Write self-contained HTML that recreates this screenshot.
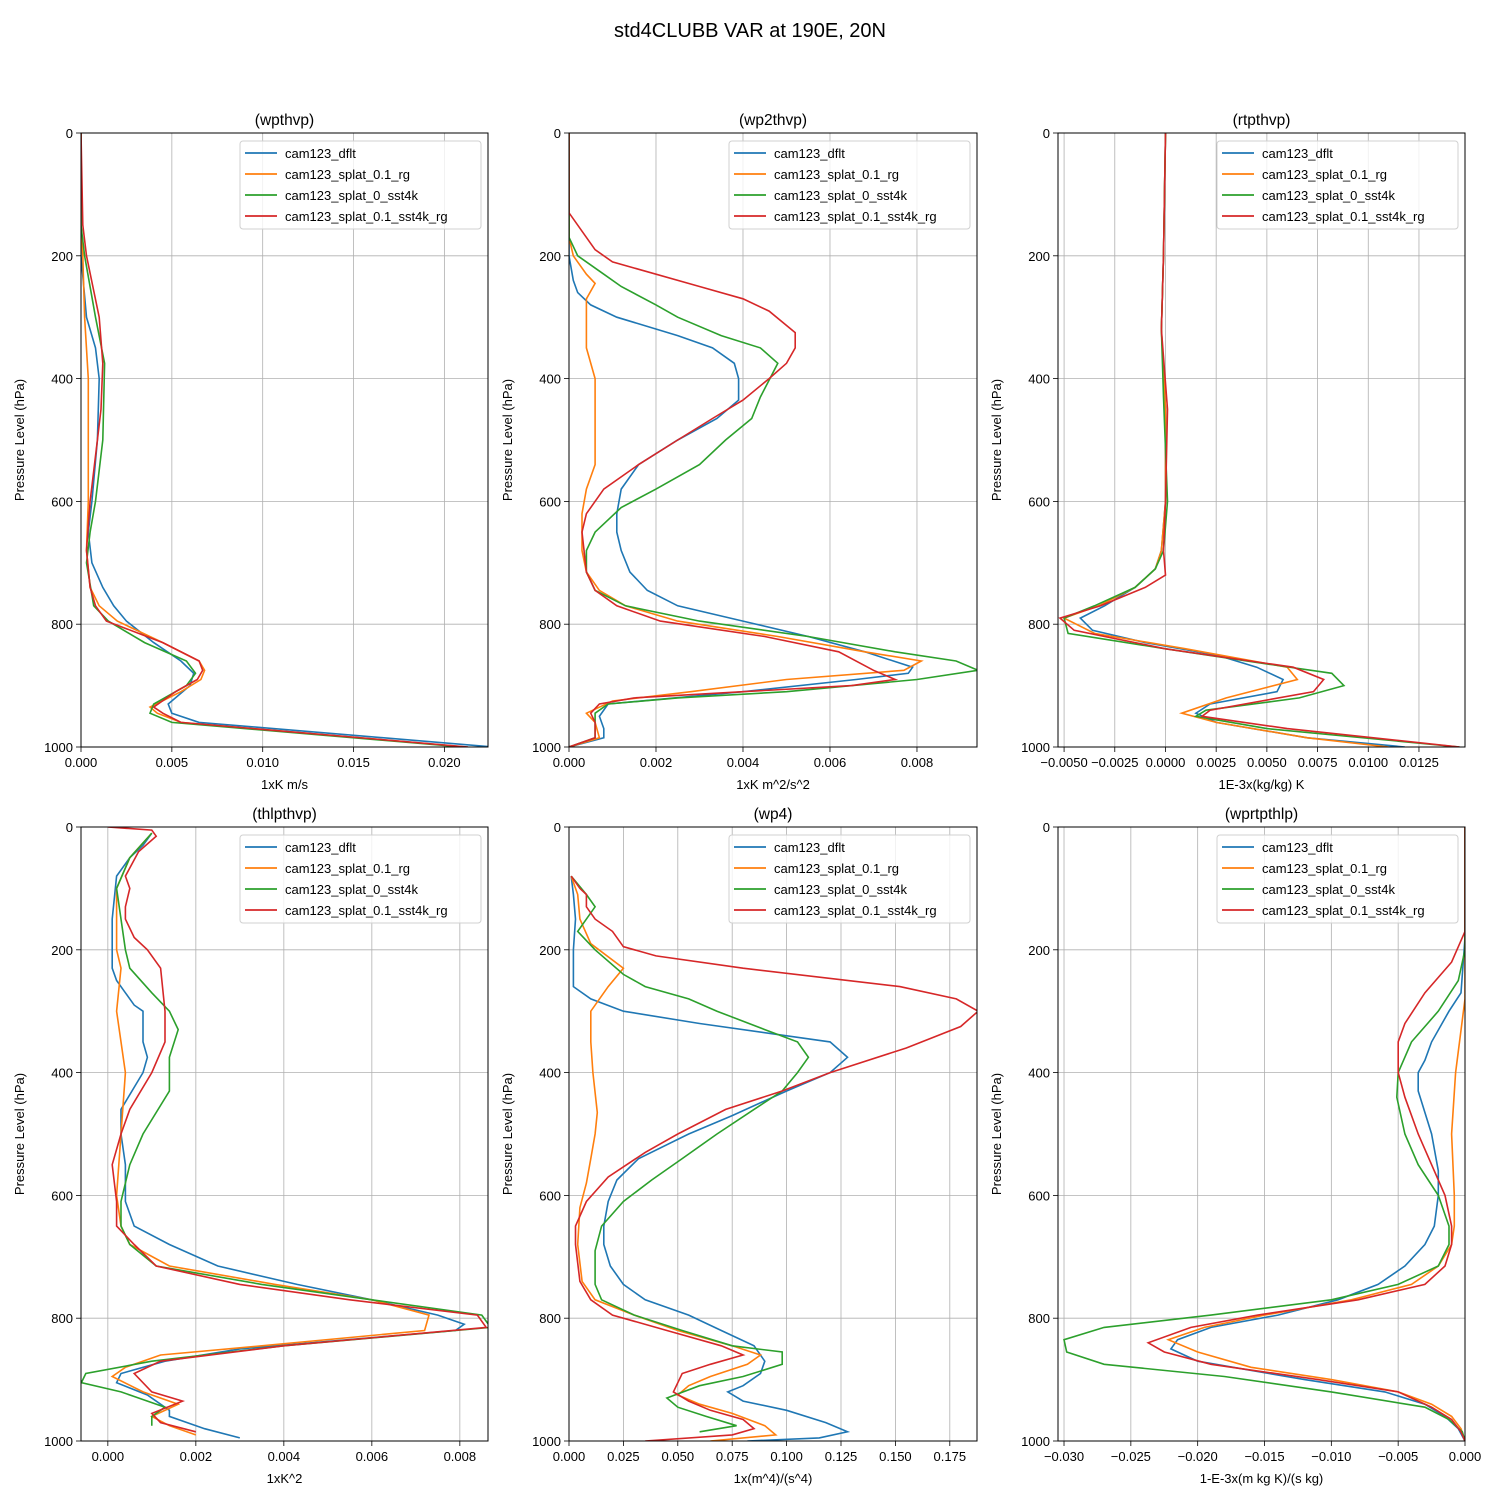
<!DOCTYPE html>
<html><head><meta charset="utf-8"><style>
body{margin:0;background:#fff;}
svg text{font-family:"Liberation Sans","DejaVu Sans",sans-serif;fill:#000;}
</style></head><body>
<svg id="chart" width="1500" height="1500" xmlns="http://www.w3.org/2000/svg">
<rect width="1500" height="1500" fill="#fff"/>
<text x="750" y="37" font-size="20" text-anchor="middle">std4CLUBB VAR at 190E, 20N</text>
</svg>
<script>
const seriesNames = ["cam123_dflt","cam123_splat_0.1_rg","cam123_splat_0_sst4k","cam123_splat_0.1_sst4k_rg"];
const seriesColors = ["#1f77b4","#ff7f0e","#2ca02c","#d62728"];
const yTicks = [0,200,400,600,800,1000];

// Panel 1: wpthvp
const p1Blue_p = [0,200,300,350,400,500,600,650,700,740,770,795,830,860,880,900,930,945,960,1000];
const p1Blue_x = [0,0,0.0003,0.0008,0.0010,0.0009,0.0006,0.0004,0.0006,0.0012,0.0018,0.0025,0.0040,0.0055,0.0062,0.0060,0.0048,0.0050,0.0065,0.0227];
const p1Orange_p = [0,150,200,300,400,500,600,680,740,770,795,830,860,875,890,910,935,945,960,1000];
const p1Orange_x = [0,0,0.0001,0.0002,0.0004,0.0004,0.0004,0.0003,0.0005,0.0010,0.0020,0.0045,0.0065,0.0068,0.0066,0.0055,0.0038,0.0042,0.0055,0.0212];
const p1Green_p = [0,150,200,300,375,500,600,650,700,770,795,830,860,880,900,930,945,960,1000];
const p1Green_x = [0,0,0.0002,0.0008,0.0013,0.0012,0.0008,0.0005,0.0003,0.0007,0.0015,0.0035,0.0058,0.0063,0.0058,0.0040,0.0038,0.0050,0.0210];
const p1Red_p = [0,150,200,300,375,450,500,600,680,740,770,795,830,860,875,890,910,935,945,960,1000];
const p1Red_x = [0,0.0001,0.0003,0.0010,0.0012,0.0011,0.0009,0.0005,0.0003,0.0005,0.0008,0.0014,0.0045,0.0065,0.0067,0.0064,0.0052,0.0040,0.0045,0.0055,0.0213];
const p1Ticks = [0,0.005,0.010,0.015,0.020];

// Panel 2: wp2thvp
const p2Blue_p = [0,200,240,260,280,300,330,350,375,400,435,465,500,540,580,620,650,680,715,745,770,795,820,845,870,880,890,910,930,950,970,985,1000];
const p2Blue_x = [0,0,0.0001,0.0002,0.0005,0.0011,0.0025,0.0033,0.0038,0.0039,0.0039,0.0034,0.0025,0.0016,0.0012,0.0011,0.0011,0.0012,0.0014,0.0018,0.0025,0.0040,0.0055,0.0068,0.0079,0.0078,0.0066,0.0040,0.0009,0.0007,0.0008,0.0008,0];
const p2Orange_p = [0,170,200,230,245,270,300,350,400,435,500,540,580,620,680,715,745,770,795,820,845,860,875,890,910,925,945,960,985,1000];
const p2Orange_x = [0,0,0.0001,0.0004,0.0006,0.0004,0.0004,0.0004,0.0006,0.0006,0.0006,0.0006,0.0004,0.0003,0.0003,0.0004,0.0007,0.0013,0.0025,0.0048,0.0068,0.0081,0.0077,0.0050,0.0028,0.0010,0.0004,0.0006,0.0007,0];
const p2Green_p = [0,170,200,230,250,280,300,330,350,375,430,465,500,540,580,610,650,680,715,745,770,795,820,845,860,875,890,910,920,930,945,960,985,1000];
const p2Green_x = [0,0,0.0002,0.0008,0.0012,0.0020,0.0025,0.0035,0.0044,0.0048,0.0044,0.0042,0.0036,0.0030,0.0020,0.0012,0.0006,0.0004,0.0004,0.0006,0.0013,0.0030,0.0055,0.0075,0.0089,0.0094,0.0080,0.0050,0.0025,0.0009,0.0006,0.0006,0.0006,0];
const p2Red_p = [0,130,160,190,210,250,270,290,325,350,375,400,435,465,500,540,580,620,650,715,745,770,795,820,845,875,890,900,910,920,930,945,960,985,1000];
const p2Red_x = [0,0,0.0003,0.0006,0.0010,0.0030,0.0040,0.0046,0.0052,0.0052,0.0050,0.0046,0.0040,0.0033,0.0025,0.0016,0.0008,0.0004,0.0003,0.0004,0.0006,0.0011,0.0021,0.0045,0.0062,0.0070,0.0075,0.0065,0.0040,0.0015,0.0007,0.0005,0.0006,0.0006,0];
const p2Ticks = [0,0.002,0.004,0.006,0.008];

// Panel 3: rtpthvp
const p3Blue_p = [0,200,320,450,600,680,710,740,770,790,810,830,850,870,890,910,930,945,960,985,1000];
const p3Blue_x = [0,-0.0001,-0.0002,0,0,-0.0002,-0.0005,-0.0015,-0.0030,-0.0042,-0.0036,-0.0010,0.0025,0.0045,0.0058,0.0055,0.0022,0.0015,0.0025,0.0070,0.0118];
const p3Orange_p = [0,200,320,450,600,680,710,740,770,790,815,840,870,890,920,945,960,985,1000];
const p3Orange_x = [0,-0.0001,-0.0002,0,0,-0.0002,-0.0005,-0.0015,-0.0033,-0.0050,-0.0035,0.0010,0.0060,0.0065,0.0030,0.0008,0.0025,0.0070,0.0110];
const p3Green_p = [0,200,320,430,600,680,710,740,770,790,815,840,860,880,900,920,940,950,970,1000];
const p3Green_x = [0,-0.0001,-0.0002,-0.0001,0.0001,-0.0001,-0.0005,-0.0015,-0.0035,-0.0050,-0.0048,0,0.0040,0.0082,0.0088,0.0066,0.0020,0.0015,0.0050,0.0145];
const p3Red_p = [0,200,320,450,600,680,720,740,770,790,810,840,870,890,910,940,950,970,1000];
const p3Red_x = [0,-0.0001,-0.0002,0.0001,0,-0.0001,0,-0.0010,-0.0032,-0.0052,-0.0045,0,0.0063,0.0078,0.0073,0.0022,0.0018,0.0060,0.0145];
const p3Ticks = [-0.005,-0.0025,0,0.0025,0.005,0.0075,0.010,0.0125];

// Panel 4: thlpthvp
const p4Blue_p = [10,30,50,80,150,230,250,270,290,300,350,375,400,460,500,550,610,650,680,715,745,770,795,810,820,850,870,890,905,925,950,960,980,995];
const p4Blue_x = [0.0010,0.0008,0.0005,0.0002,0.0001,0.0001,0.0002,0.0004,0.0006,0.0008,0.0008,0.0009,0.0008,0.0003,0.0003,0.0004,0.0004,0.0006,0.0014,0.0025,0.0043,0.0060,0.0075,0.0081,0.0079,0.0030,0.0013,0.0003,0.0002,0.0009,0.0014,0.0014,0.0022,0.0030];
const p4Orange_p = [10,50,100,200,230,300,350,400,500,600,650,680,715,745,770,795,820,845,860,880,895,920,940,960,975,990];
const p4Orange_x = [0.0010,0.0005,0.0002,0.0002,0.0003,0.0002,0.0003,0.0004,0.0003,0.0002,0.0003,0.0005,0.0014,0.0038,0.0060,0.0073,0.0072,0.0035,0.0012,0.0004,0.0001,0.0008,0.0016,0.0010,0.0014,0.0020];
const p4Green_p = [10,50,100,150,200,230,270,300,330,375,430,500,550,610,650,680,715,745,770,795,815,845,870,890,905,920,945,960,975];
const p4Green_x = [0.0010,0.0005,0.0002,0.0003,0.0004,0.0005,0.0010,0.0014,0.0016,0.0014,0.0014,0.0008,0.0005,0.0003,0.0003,0.0005,0.0011,0.0035,0.0060,0.0085,0.0087,0.0040,0.0010,-0.0005,-0.0006,0.0003,0.0013,0.0010,0.0010];
const p4Red_p = [0,5,15,40,80,100,130,150,180,200,230,300,350,400,460,500,550,610,650,680,715,745,770,795,815,845,870,890,920,935,955,970,985];
const p4Red_x = [0,0.0010,0.0011,0.0007,0.0004,0.0005,0.0004,0.0004,0.0006,0.0009,0.0012,0.0013,0.0013,0.0010,0.0005,0.0003,0.0001,0.0002,0.0002,0.0006,0.0011,0.0030,0.0055,0.0084,0.0086,0.0040,0.0012,0.0006,0.0010,0.0017,0.0010,0.0012,0.0020];
const p4Ticks = [0,0.002,0.004,0.006,0.008];

// Panel 5: wp4
const p5Blue_p = [80,110,150,200,260,280,300,320,350,375,400,430,470,500,540,575,610,650,680,715,745,770,795,820,845,870,890,910,920,935,950,970,985,995,1000];
const p5Blue_x = [0.001,0.002,0.003,0.002,0.002,0.010,0.025,0.060,0.120,0.128,0.120,0.100,0.075,0.055,0.032,0.022,0.018,0.016,0.016,0.019,0.025,0.035,0.055,0.070,0.085,0.090,0.088,0.080,0.073,0.080,0.100,0.118,0.128,0.115,0.082];
const p5Orange_p = [80,110,150,190,230,260,300,350,400,465,500,540,580,620,680,740,770,795,820,845,860,875,895,910,925,940,955,975,990,1000];
const p5Orange_x = [0.001,0.004,0.005,0.010,0.025,0.018,0.010,0.010,0.011,0.013,0.012,0.010,0.008,0.005,0.004,0.006,0.012,0.030,0.050,0.075,0.088,0.082,0.065,0.055,0.050,0.060,0.075,0.090,0.095,0.065];
const p5Green_p = [80,110,130,150,170,200,240,260,280,300,330,350,375,400,430,460,500,540,575,610,650,690,745,770,795,820,845,855,875,895,910,930,945,960,975,985];
const p5Green_x = [0.001,0.008,0.012,0.008,0.004,0.012,0.025,0.035,0.055,0.068,0.090,0.105,0.110,0.105,0.098,0.085,0.068,0.052,0.038,0.025,0.015,0.012,0.012,0.015,0.030,0.052,0.075,0.098,0.098,0.080,0.060,0.045,0.050,0.063,0.077,0.060];
const p5Red_p = [80,100,110,130,150,170,195,210,230,260,280,300,325,360,400,430,460,500,530,570,610,650,680,740,770,795,820,845,860,875,890,905,920,935,950,965,980,990,1000];
const p5Red_x = [0.001,0.005,0.008,0.008,0.012,0.020,0.025,0.040,0.080,0.152,0.178,0.188,0.180,0.155,0.120,0.098,0.072,0.050,0.035,0.018,0.008,0.003,0.003,0.005,0.010,0.020,0.045,0.070,0.080,0.065,0.052,0.050,0.048,0.055,0.065,0.080,0.085,0.075,0.035];
const p5Ticks = [0,0.025,0.050,0.075,0.100,0.125,0.150,0.175];

// Panel 6: wprtpthlp
const p6Blue_p = [0,180,270,300,350,380,400,430,500,560,600,650,680,715,745,770,795,815,835,850,870,900,920,940,960,980,1000];
const p6Blue_x = [0,0,-0.0003,-0.0012,-0.0025,-0.0030,-0.0035,-0.0035,-0.0025,-0.0020,-0.0020,-0.0023,-0.0030,-0.0045,-0.0065,-0.0095,-0.0140,-0.0190,-0.0215,-0.0220,-0.0200,-0.0120,-0.0060,-0.0030,-0.0015,-0.0005,0];
const p6Orange_p = [0,280,400,500,600,650,680,715,745,770,795,815,835,855,880,900,920,940,960,980,1000];
const p6Orange_x = [0,0,-0.0007,-0.0010,-0.0008,-0.0008,-0.0010,-0.0020,-0.0040,-0.0085,-0.0150,-0.0195,-0.0222,-0.0200,-0.0160,-0.0100,-0.0050,-0.0025,-0.0010,-0.0003,0];
const p6Green_p = [0,200,250,300,350,400,440,500,550,600,650,680,715,745,770,795,815,835,855,875,895,920,945,965,985,1000];
const p6Green_x = [0,0,-0.0005,-0.0020,-0.0040,-0.0050,-0.0051,-0.0045,-0.0035,-0.0020,-0.0012,-0.0012,-0.0020,-0.0050,-0.0100,-0.0190,-0.0270,-0.0300,-0.0298,-0.0270,-0.0180,-0.0100,-0.0030,-0.0012,-0.0002,0];
const p6Red_p = [0,170,220,270,320,350,400,440,500,550,600,650,680,715,745,770,795,815,840,855,875,900,920,945,965,985,1000];
const p6Red_x = [0,0,-0.0010,-0.0030,-0.0045,-0.0050,-0.0050,-0.0045,-0.0035,-0.0025,-0.0015,-0.0010,-0.0010,-0.0015,-0.0030,-0.0080,-0.0155,-0.0205,-0.0237,-0.0225,-0.0190,-0.0110,-0.0050,-0.0025,-0.0010,-0.0003,0];
const p6Ticks = [-0.030,-0.025,-0.020,-0.015,-0.010,-0.005,0];

const NS = "http://www.w3.org/2000/svg";
const svg = document.getElementById('chart');
function mk(tag, attrs, parent){
  const e = document.createElementNS(NS, tag);
  for (const k in attrs) e.setAttribute(k, attrs[k]);
  (parent||svg).appendChild(e);
  return e;
}
function fmt(v, d){
  let s = v.toFixed(d);
  if (Math.abs(v) < 1e-12) s = (0).toFixed(d);
  return s.replace('-', '\u2212');
}
const panels = [
  {key:'wpthvp', title:'(wpthvp)', xlabel:'1xK m/s', L:81, R:488, T:133, B:747, xmin:0, xmax:0.0224, ticks:p1Ticks, dec:3,
   series:[[p1Blue_p,p1Blue_x],[p1Orange_p,p1Orange_x],[p1Green_p,p1Green_x],[p1Red_p,p1Red_x]]},
  {key:'wp2thvp', title:'(wp2thvp)', xlabel:'1xK m^2/s^2', L:569, R:977, T:133, B:747, xmin:0, xmax:0.00938, ticks:p2Ticks, dec:3,
   series:[[p2Blue_p,p2Blue_x],[p2Orange_p,p2Orange_x],[p2Green_p,p2Green_x],[p2Red_p,p2Red_x]]},
  {key:'rtpthvp', title:'(rtpthvp)', xlabel:'1E-3x(kg/kg) K', L:1058, R:1465, T:133, B:747, xmin:-0.0053, xmax:0.01477, ticks:p3Ticks, dec:4,
   series:[[p3Blue_p,p3Blue_x],[p3Orange_p,p3Orange_x],[p3Green_p,p3Green_x],[p3Red_p,p3Red_x]]},
  {key:'thlpthvp', title:'(thlpthvp)', xlabel:'1xK^2', L:81, R:488, T:827, B:1441, xmin:-0.00061, xmax:0.00864, ticks:p4Ticks, dec:3,
   series:[[p4Blue_p,p4Blue_x],[p4Orange_p,p4Orange_x],[p4Green_p,p4Green_x],[p4Red_p,p4Red_x]]},
  {key:'wp4', title:'(wp4)', xlabel:'1x(m^4)/(s^4)', L:569, R:977, T:827, B:1441, xmin:0, xmax:0.1875, ticks:p5Ticks, dec:3,
   series:[[p5Blue_p,p5Blue_x],[p5Orange_p,p5Orange_x],[p5Green_p,p5Green_x],[p5Red_p,p5Red_x]]},
  {key:'wprtpthlp', title:'(wprtpthlp)', xlabel:'1-E-3x(m kg K)/(s kg)', L:1058, R:1465, T:827, B:1441, xmin:-0.03045, xmax:0, ticks:p6Ticks, dec:3,
   series:[[p6Blue_p,p6Blue_x],[p6Orange_p,p6Orange_x],[p6Green_p,p6Green_x],[p6Red_p,p6Red_x]]}
];
panels.forEach(pn => {
  const g = mk('g', {});
  
  
  const xs = v => pn.L + (v - pn.xmin) / (pn.xmax - pn.xmin) * (pn.R - pn.L);
  const ys = p => pn.T + p / 1000 * (pn.B - pn.T);
  // grid + x ticks
  pn.ticks.forEach(t => {
    const x = xs(t);
    const gl = mk('line', {x1:x, x2:x, y1:pn.T, y2:pn.B, stroke:'#b0b0b0', 'stroke-width':0.8}, g);
    
    
    mk('line', {x1:x, x2:x, y1:pn.B, y2:pn.B+5, stroke:'#000', 'stroke-width':0.8}, g);
    const tl = mk('text', {x:x, y:pn.B+20, 'font-size':13, 'text-anchor':'middle'}, g);
    tl.textContent = fmt(t, pn.dec);
    
    
  });
  yTicks.forEach(t => {
    const y = ys(t);
    const gl = mk('line', {x1:pn.L, x2:pn.R, y1:y, y2:y, stroke:'#b0b0b0', 'stroke-width':0.8}, g);
    
    
    mk('line', {x1:pn.L-5, x2:pn.L, y1:y, y2:y, stroke:'#000', 'stroke-width':0.8}, g);
    const tl = mk('text', {x:pn.L-8, y:y+5, 'font-size':13, 'text-anchor':'end'}, g);
    tl.textContent = String(t);
    
    
  });
  // clip
  const cp = mk('clipPath', {id:'clip-'+pn.key}, g);
  mk('rect', {x:pn.L, y:pn.T, width:pn.R-pn.L, height:pn.B-pn.T}, cp);
  pn.series.forEach((s, i) => {
    const pts = s[0].map((p, j) => xs(s[1][j]).toFixed(1) + ',' + ys(p).toFixed(1)).join(' ');
    const pl = mk('polyline', {points:pts, fill:'none', stroke:seriesColors[i], 'stroke-width':1.6, 'clip-path':'url(#clip-'+pn.key+')'}, g);
    
    
  });
  const fr = mk('rect', {x:pn.L, y:pn.T, width:pn.R-pn.L, height:pn.B-pn.T, fill:'none', stroke:'#000', 'stroke-width':1}, g);
  
  
  const ti = mk('text', {x:(pn.L+pn.R)/2, y:pn.T-8, 'font-size':15.5, 'text-anchor':'middle'}, g);
  ti.textContent = pn.title;
  
  
  const xl = mk('text', {x:(pn.L+pn.R)/2, y:pn.B+42, 'font-size':13, 'text-anchor':'middle'}, g);
  xl.textContent = pn.xlabel;
  
  
  const cy = (pn.T+pn.B)/2, cx = pn.L-57;
  const yl = mk('text', {x:cx, y:cy, 'font-size':13, 'text-anchor':'middle', transform:'rotate(-90 '+cx+' '+cy+')'}, g);
  yl.textContent = 'Pressure Level (hPa)';
  
  
  // legend
  const lg = mk('g', {}, g);
  
  
  const lx = pn.R - 248, ly = pn.T + 8;
  mk('rect', {x:lx, y:ly, width:241, height:88, rx:3, fill:'#fff', 'fill-opacity':0.8, stroke:'#d0d0d0', 'stroke-width':1}, lg);
  seriesNames.forEach((nm, i) => {
    const yy = ly + 12 + i*21;
    const ln = mk('line', {x1:lx+5, x2:lx+37, y1:yy, y2:yy, stroke:seriesColors[i], 'stroke-width':1.8}, lg);
    
    
    const tx = mk('text', {x:lx+45, y:yy+5, 'font-size':13}, lg);
    tx.textContent = nm;
    
    
  });
});
</script>
</body></html>
